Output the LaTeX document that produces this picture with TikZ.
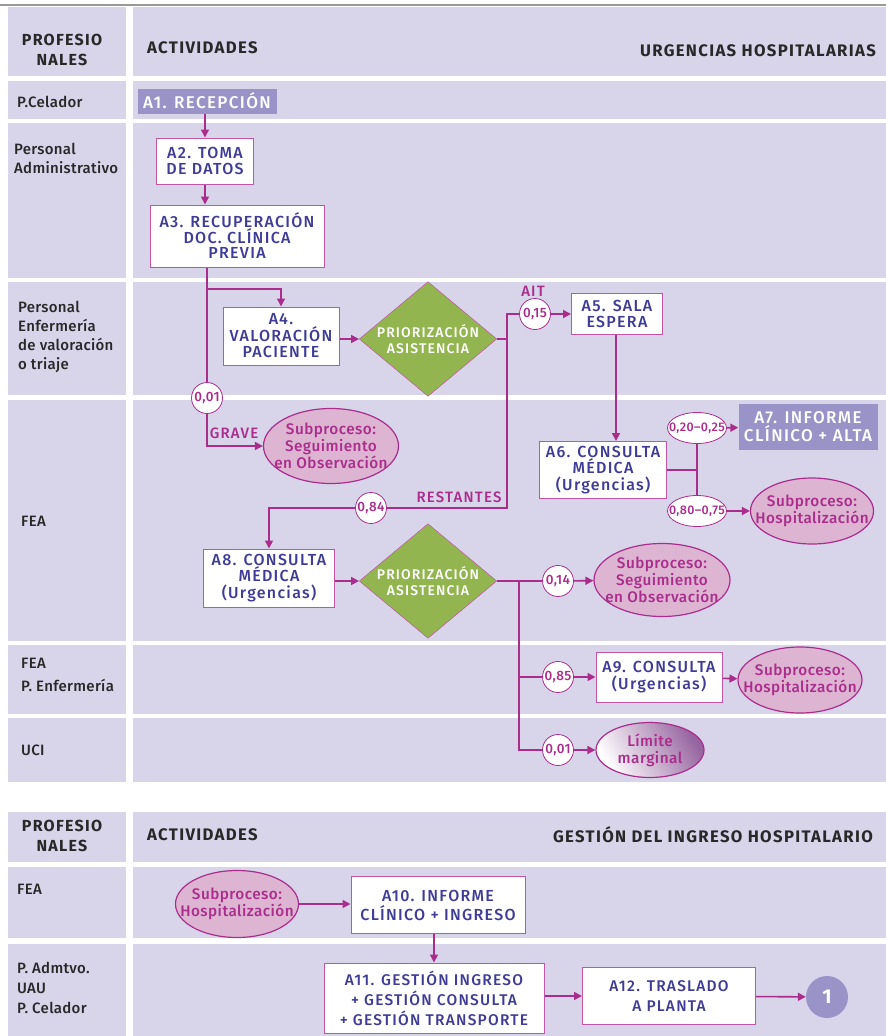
\documentclass[tikz,border=0pt]{standalone}
\usepackage{fontspec}
\setmainfont{Fira Sans}
\newfontfamily\actfont{Fira Sans}[UprightFont=* Medium, LetterSpace=8]
\newfontfamily\headfont{Fira Sans}[UprightFont=* Bold, LetterSpace=8]
\newfontfamily\labfont{Fira Sans}[UprightFont=* Medium, LetterSpace=2]
\newfontfamily\subfont{Fira Sans}[UprightFont=* Medium, LetterSpace=3]
\usetikzlibrary{shapes.geometric,arrows.meta}
\definecolor{lanecol}{RGB}{216,212,234}
\definecolor{flow}{RGB}{170,45,140}
\definecolor{frame}{RGB}{192,84,165}
\definecolor{ink}{RGB}{62,60,150}
\definecolor{subcol}{RGB}{221,181,211}
\definecolor{lila}{RGB}{154,147,200}
\definecolor{leaf}{RGB}{147,181,80}
\definecolor{dark}{RGB}{40,40,40}
\definecolor{limdark}{RGB}{150,100,160}

\begin{document}
\begin{tikzpicture}[x=1pt,y=-1pt,
        lanetxt/.style={anchor=west, text=dark, align=left, inner sep=0pt, font=\labfont\fontsize{15}{19}\selectfont},
        headtxt/.style={text=dark, inner sep=0pt, font=\headfont\fontsize{16.7}{20}\selectfont},
        actbox/.style={draw=frame, line width=1pt, fill=white, text=ink, align=center, inner sep=0pt, font=\actfont\fontsize{16}{16.5}\selectfont},
        endbox/.style={fill=lila, text=white, align=center, inner sep=0pt, font=\actfont\fontsize{17}{18}\selectfont},
        decision/.style={diamond, aspect=1.2, fill=leaf, draw=frame, line width=0.5pt, text=white, align=center, inner sep=0pt, minimum width=134, minimum height=110, font=\actfont\fontsize{14}{16}\selectfont},
        subproc/.style={ellipse, draw=flow, line width=1.2pt, fill=subcol, text=flow, align=center, inner xsep=-14pt, inner ysep=-2pt, font=\subfont\fontsize{15.3}{17}\selectfont},
        prob/.style={circle, draw=flow, line width=0.8pt, fill=white, text=flow, inner sep=0pt, minimum size=31, font=\subfont\fontsize{13.5}{13.5}\selectfont},
        probwide/.style={prob, ellipse, inner xsep=-12pt, minimum width=59, minimum height=31, font=\subfont\fontsize{12.5}{12.5}\selectfont},
        flowline/.style={draw=flow, line width=1.6pt},
        flowarr/.style={flowline, -{Triangle[length=8pt,width=8pt]}},
        flowlbl/.style={text=flow, inner sep=0pt, font=\actfont\fontsize{15}{15}\selectfont}
    ]
        \useasboundingbox (0,0) rectangle (886,1036);
        \draw[gray!80, line width=1.5pt] (0,5) -- (886,5);
        \foreach \ya/\yb in {7/76,81/119,123/278,282/395,400/641,645/714,718/782,812/862,867/938,944/1036}{
            \fill[lanecol] (8,\ya) rectangle (126,\yb);
            \fill[lanecol] (133,\ya) rectangle (886,\yb);
        }

        \node[headtxt, align=center, font=\headfont\fontsize{16}{20}\selectfont] (prof1) at (62,50) {PROFESIO\\NALES};
        \node[headtxt, anchor=west] (act1) at (147,48) {ACTIVIDADES};
        \node[headtxt, anchor=east] (title1) at (876,51) {URGENCIAS HOSPITALARIAS};
        \node[lanetxt] (lcel) at (17,102) {P.Celador};
        \node[lanetxt] (ladm) at (14,158) {Personal\\Administrativo};
        \node[lanetxt, font=\labfont\fontsize{15}{18.7}\selectfont] (lenf) at (18,337) {Personal\\Enfermería\\de valoración\\o triaje};
        \node[lanetxt] (lfea) at (21,521) {FEA};
        \node[lanetxt, font=\labfont\fontsize{15}{23}\selectfont] (lfeaenf) at (21,675) {FEA\\P. Enfermería};
        \node[lanetxt] (luci) at (21,750) {UCI};

        \node[headtxt, align=center, font=\headfont\fontsize{16}{20}\selectfont] (prof2) at (62,836) {PROFESIO\\NALES};
        \node[headtxt, anchor=west] (act2) at (147,835) {ACTIVIDADES};
        \node[headtxt, anchor=east] (title2) at (873,835) {GESTIÓN DEL INGRESO HOSPITALARIO};
        \node[lanetxt] (lfea2) at (17,889) {FEA};
        \node[lanetxt, font=\labfont\fontsize{15}{20}\selectfont] (ladm2) at (17,988) {P. Admtvo.\\UAU\\P. Celador};

        \node[endbox, minimum width=139, minimum height=25] (a1) at (207,101) {A1. RECEPCIÓN};
        \node[actbox, minimum width=97, minimum height=46] (a2) at (205,161) {A2. TOMA\\DE DATOS};
        \node[actbox, minimum width=174, minimum height=62, font=\actfont\fontsize{16}{15.5}\selectfont] (a3) at (237,236) {A3. RECUPERACIÓN\\DOC. CLÍNICA\\PREVIA};
        \node[actbox, minimum width=116, minimum height=58] (a4) at (281,336) {A4.\\VALORACIÓN\\PACIENTE};
        \node[decision] (d1) at (428,339) {PRIORIZACIÓN\\ASISTENCIA};
        \node[prob] (p001) at (207,398) {0,01};
        \node[subproc, minimum width=135, minimum height=75] (obs1) at (331,446) {Subproceso:\\Seguimiento\\en Observación};
        \node[flowlbl] (grave) at (234,433) {GRAVE};
        \node[prob] (p015) at (535,314) {0,15};
        \node[flowlbl] (ait) at (533,291) {AIT};
        \node[actbox, minimum width=91, minimum height=41] (a5) at (617,314) {A5. SALA\\ESPERA};
        \node[actbox, minimum width=127, minimum height=57] (a6) at (603,470) {A6. CONSULTA\\MÉDICA\\(Urgencias)};
        \node[probwide] (p020) at (697,428) {0,20–0,25};
        \node[probwide] (p080) at (697,511) {0,80–0,75};
        \node[endbox, minimum width=139, minimum height=46] (a7) at (808,427) {A7. INFORME\\CLÍNICO + ALTA};
        \node[subproc, minimum width=123, minimum height=66] (hosp1) at (812,511) {Subproceso:\\Hospitalización};
        \node[prob] (p084) at (371,508) {0,84};
        \node[flowlbl] (rest) at (459,497) {RESTANTES};
        \node[actbox, minimum width=131, minimum height=58] (a8) at (269,578) {A8. CONSULTA\\MÉDICA\\(Urgencias)};
        \node[decision, minimum height=106] (d2) at (428,581) {PRIORIZACIÓN\\ASISTENCIA};
        \node[prob] (p014) at (558,581) {0,14};
        \node[subproc, minimum width=136, minimum height=73] (obs2) at (662,580) {Subproceso:\\Seguimiento\\en Observación};
        \node[prob] (p085) at (558,677) {0,85};
        \node[actbox, minimum width=126, minimum height=50] (a9) at (659,677) {A9. CONSULTA\\(Urgencias)};
        \node[subproc, minimum width=124, minimum height=66] (hosp2) at (800,680) {Subproceso:\\Hospitalización};
        \node[prob] (p001b) at (558,750) {0,01};
        \node[subproc, left color=white, right color=limdark, shading angle=120, minimum width=108, minimum height=55] (lim) at (650,750) {Límite\\marginal};

        \node[subproc, minimum width=123, minimum height=67] (hosp3) at (237,904) {Subproceso:\\Hospitalización};
        \node[actbox, minimum width=174, minimum height=57, font=\actfont\fontsize{16}{19}\selectfont] (a10) at (438,905) {A10. INFORME\\CLÍNICO + INGRESO};
        \node[actbox, minimum width=220, minimum height=70, font=\actfont\fontsize{15.5}{20}\selectfont] (a11) at (434,998) {A11. GESTIÓN INGRESO\\+ GESTIÓN CONSULTA\\+ GESTIÓN TRANSPORTE};
        \node[actbox, minimum width=173, minimum height=57, font=\actfont\fontsize{15.5}{20}\selectfont] (a12) at (669,996) {A12. TRASLADO\\A PLANTA};
        \node[circle, fill=lila, text=white, minimum size=42, inner sep=0pt, font=\headfont\fontsize{20}{20}\selectfont] (end1) at (827,997) {1};

        \coordinate (j1) at (207,289);
        \coordinate (j2) at (507,339);
        \coordinate (j3) at (697,470);
        \coordinate (j4) at (519,581);

        \draw[flowarr] (a2.north |- a1.south) -- (a2.north);
        \draw[flowarr] (a2.south) -- (a2.south |- a3.north);
        \draw[flowline] (a3.south -| p001) -- (p001);
        \draw[flowarr] (j1) -| (a4.north);
        \draw[flowarr] (p001) |- (obs1);
        \draw[flowarr] (a4.east |- d1) -- (d1);
        \draw[flowline] (d1.east) -- (j2);
        \draw[flowline] (j2) |- (p015);
        \draw[flowarr] (p015) -- (a5);
        \draw[flowline] (j2) |- (p084);
        \draw[flowarr] (p084) -| (a8.north);
        \draw[flowarr] (a5.south -| 616,0) -- (a6.north -| 616,0);
        \draw[flowline] (a6.east) -- (j3);
        \draw[flowline] (p020) -- (p080);
        \draw[flowarr] (p020) -- (a7);
        \draw[flowarr] (p080) -- (hosp1);
        \draw[flowarr] (a8.east |- d2) -- (d2);
        \draw[flowline] (d2.east) -- (p014);
        \draw[flowarr] (p014) -- (obs2);
        \draw[flowline] (j4) |- (p001b);
        \draw[flowline] (j4 |- p085) -- (p085);
        \draw[flowarr] (p085) -- (a9);
        \draw[flowarr] (a9) -- (hosp2);
        \draw[flowarr] (p001b) -- (lim);
        \draw[flowarr] (hosp3) -- (hosp3 -| a10.west);
        \draw[flowarr] (a10.south -| 434,0) -- (a11.north -| 434,0);
        \draw[flowarr] (a11.east |- a12) -- (a12);
        \draw[flowarr] (a12) -- (end1);
\end{tikzpicture}
\end{document}
